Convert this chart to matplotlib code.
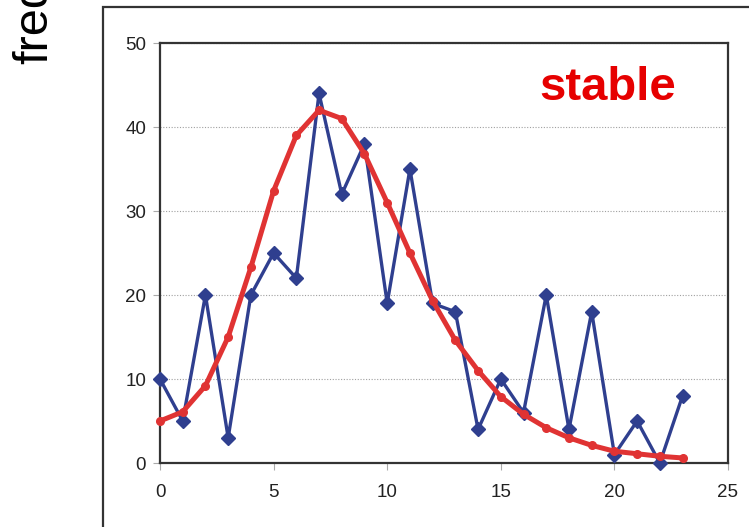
import matplotlib
matplotlib.use("Agg")
import matplotlib.pyplot as plt
from matplotlib.patches import Rectangle

# data
x = list(range(24))
observed = [10, 5, 20, 3, 20, 25, 22, 44, 32, 38, 19, 35, 19, 18, 4, 10, 6, 20, 4, 18, 1, 5, 0, 8]
fitted = [5.0, 6.1, 9.2, 15.0, 23.3, 32.4, 39.0, 42.0, 41.0, 36.8, 31.0, 25.0, 19.3, 14.6,
          11.0, 7.9, 5.8, 4.2, 3.0, 2.1, 1.4, 1.1, 0.8, 0.6]
xticks = [0, 5, 10, 15, 20, 25]
yticks = [0, 10, 20, 30, 40, 50]

W, H = 749, 527
plt.rcParams['font.family'] = ['Liberation Sans', 'DejaVu Sans']

fig = plt.figure(figsize=(W / 100, H / 100), dpi=100)

# outer frame (runs off the right and bottom edges)
frame = Rectangle((103 / W, -0.2), 1.0, 1.2 - 7 / H, transform=fig.transFigure,
                  fill=False, edgecolor='#333333', linewidth=1.6)
fig.add_artist(frame)

# big y label, mostly cut off at the top like in the source
fig.text(47 / W, 1 - 64 / H, 'frequency', rotation=90, rotation_mode='anchor',
         ha='left', va='baseline', fontsize=35, color='black')

ax = fig.add_axes([160 / W, 1 - 463 / H, (728 - 160) / W, (463 - 43) / H])
ax.set_xlim(0, 25)
ax.set_ylim(0, 50)
ax.set_xticks(xticks)
ax.set_yticks(yticks)
ax.yaxis.grid(True, linestyle=(0, (1, 1.5)), color='#a0a0a0', linewidth=0.8)
ax.set_axisbelow(True)
for s in ax.spines.values():
    s.set_color('#333333')
    s.set_linewidth(1.6)
ax.tick_params(axis='both', labelsize=13.5, labelcolor='#222222', color='#aaaaaa',
               length=5, width=0.8, direction='out')
ax.tick_params(axis='x', pad=10)
ax.tick_params(axis='y', pad=5)

ax.plot(x, observed, color='#2F3F8F', linewidth=2.4, marker='D', markersize=7.5,
        markeredgecolor='#2F3F8F', clip_on=False, zorder=3)
ax.plot(x, fitted, color='#E03333', linewidth=3.6, marker='o', markersize=5.5,
        clip_on=False, zorder=4)

ax.text((608 - 160) / (728 - 160), (463 - 88) / (463 - 43), 'stable',
        transform=ax.transAxes, fontsize=34, fontweight='bold',
        color='#E60000', ha='center', va='center')

fig.savefig('out.png', dpi=100)
